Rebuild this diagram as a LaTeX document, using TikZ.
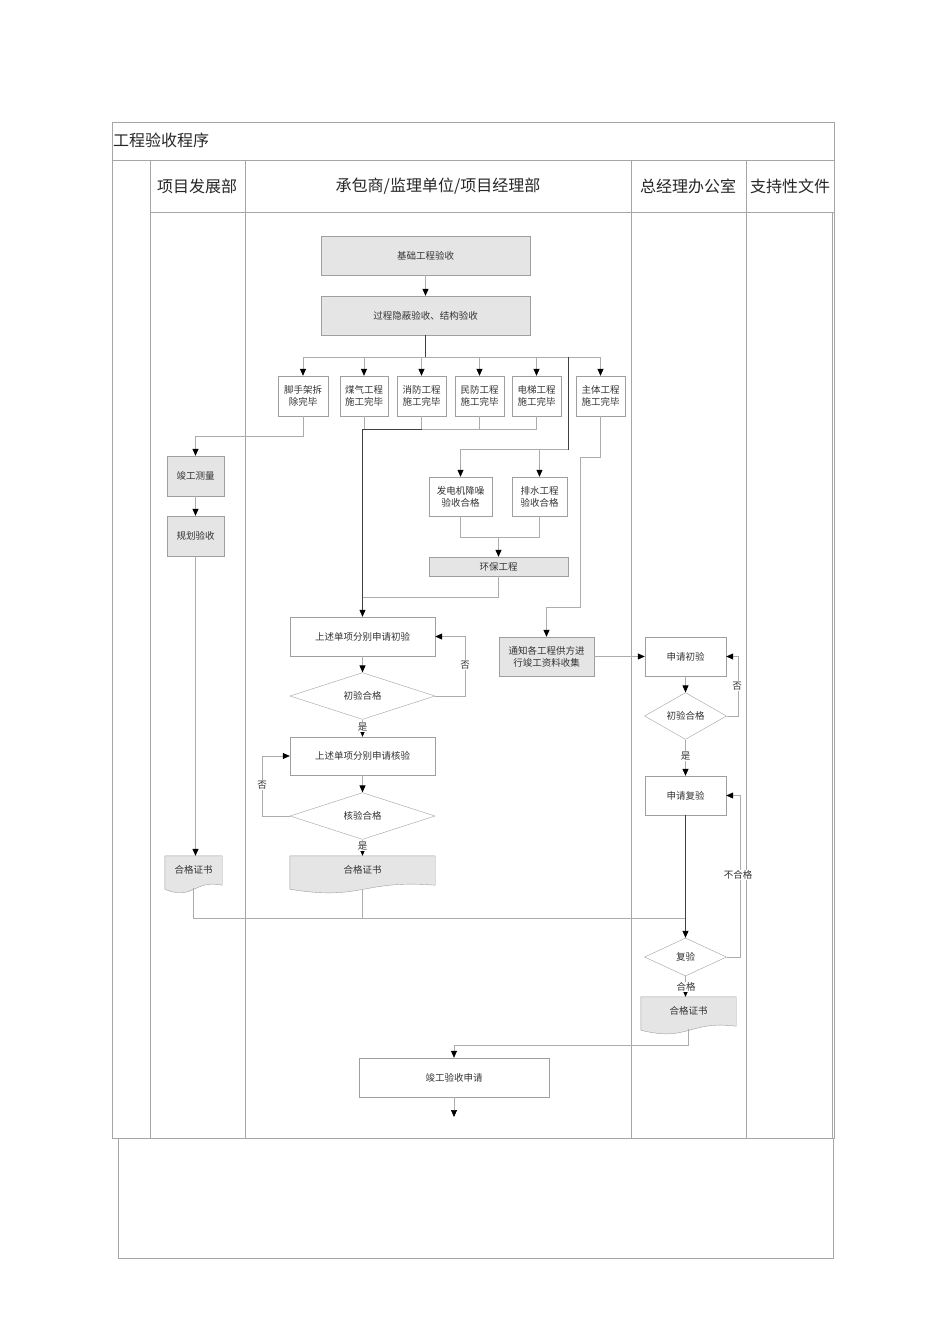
\documentclass[tikz,border=0pt]{standalone}
\usepackage{fontspec}
\setmainfont{Noto Sans CJK SC}
\usetikzlibrary{arrows.meta,shapes.geometric,calc}
\begin{document}
\begin{tikzpicture}[x=1pt,y=-1pt,
  tbl/.style={draw=gray!70,line width=0.8pt},
  ln/.style={draw=gray!65,line width=0.7pt},
  dk/.style={draw=black!75,line width=0.8pt},
  arr/.style={-{Triangle[width=6pt,length=7pt,color=black]}},
  bx/.style={draw=gray!75,rectangle,inner sep=1pt,align=center,font=\fontsize{9.5}{12}\selectfont,text=black!80},
  gbx/.style={bx,fill=gray!20},
  dm/.style={draw=gray!75,diamond,inner sep=0pt,font=\fontsize{9.5}{12}\selectfont,text=black!80},
  dc/.style={rectangle,inner sep=1pt,font=\fontsize{9.5}{12}\selectfont,text=black!80,anchor=center},
  lbl/.style={font=\fontsize{9.5}{12}\selectfont,text=black!80,fill=white,inner sep=1pt},
  hd/.style={font=\fontsize{16}{18}\selectfont,text=black!85}]
\useasboundingbox (0,0) rectangle (950,1344);
% table
\draw[tbl] (112,122) rectangle (834,1138);
\draw[tbl] (112,160) -- (834,160);
\draw[tbl] (150,212) -- (834,212);
\foreach \x in {150,245,631,746} \draw[tbl] (\x,160) -- (\x,1138);
\draw[tbl] (832,212) -- (832,1138);
\draw[tbl] (118,1138) rectangle (833,1258);
\node[hd,anchor=west,inner sep=0pt] (title) at (113,140) {工程验收程序};
\node[hd] (h1) at (197,186) {项目发展部};
\node[hd] (h2) at (438,186) {承包商/监理单位/项目经理部};
\node[hd] (h3) at (688,186) {总经理办公室};
\node[hd] (h4) at (790,186) {支持性文件};
% nodes
\node[gbx,minimum width=209pt,minimum height=39pt] (jc) at (425.5,255.5) {基础工程验收};
\node[gbx,minimum width=209pt,minimum height=39pt] (gc) at (425.5,315.5) {过程隐蔽验收、结构验收};
\node[bx,minimum width=50pt,minimum height=40pt] (s1) at (303,396) {脚手架拆\\除完毕};
\node[bx,minimum width=48pt,minimum height=40pt] (s2) at (364,396) {煤气工程\\施工完毕};
\node[bx,minimum width=49pt,minimum height=40pt] (s3) at (421.5,396) {消防工程\\施工完毕};
\node[bx,minimum width=49pt,minimum height=40pt] (s4) at (479.5,396) {民防工程\\施工完毕};
\node[bx,minimum width=49pt,minimum height=40pt] (s5) at (536.5,396) {电梯工程\\施工完毕};
\node[bx,minimum width=49pt,minimum height=40pt] (s6) at (600.5,396) {主体工程\\施工完毕};
\node[bx,minimum width=63pt,minimum height=39pt] (fd) at (460.5,496.5) {发电机降噪\\验收合格};
\node[bx,minimum width=55pt,minimum height=39pt] (ps) at (539.5,496.5) {排水工程\\验收合格};
\node[gbx,minimum width=139pt,minimum height=19pt] (hb) at (498.5,566.5) {环保工程};
\node[gbx,minimum width=57pt,minimum height=40pt] (jg) at (195.5,476) {竣工测量};
\node[gbx,minimum width=57pt,minimum height=40pt] (gh) at (195.5,536) {规划验收};
\node[bx,minimum width=145pt,minimum height=39pt] (sq1) at (362.5,636.5) {上述单项分别申请初验};
\node[dm,minimum width=145pt,minimum height=38pt] (d1) at (362.5,696) {初验合格};
\node[bx,minimum width=145pt,minimum height=38pt] (sq2) at (362.5,756) {上述单项分别申请核验};
\node[dm,minimum width=145pt,minimum height=38pt] (d2) at (362.5,816) {核验合格};
\node[gbx,minimum width=95pt,minimum height=39pt] (tz) at (546.5,656.5) {通知各工程供方进\\行竣工资料收集};
\node[bx,minimum width=81pt,minimum height=39pt] (sc) at (685.5,656.5) {申请初验};
\node[dm,minimum width=82pt,minimum height=38pt] (d3) at (685.5,716) {初验合格};
\node[bx,minimum width=81pt,minimum height=39pt] (sf) at (685.5,795.5) {申请复验};
\node[dm,minimum width=82pt,minimum height=38pt] (d4) at (685.5,957) {复验};
\node[bx,minimum width=190pt,minimum height=39pt] (jy) at (454,1077.5) {竣工验收申请};
% documents
\newcommand\docpath[1]{\draw[draw=gray!75,fill=gray!20] (#1.north west) -- (#1.north east) -- ([yshift=8pt]#1.south east) .. controls ([yshift=14pt]#1.south) and ([yshift=-8pt]#1.south) .. ([yshift=4pt]#1.south west) -- cycle;}
\node[dc,minimum width=57pt,minimum height=37pt] (doc1) at (193.5,874.5) {};
\node[dc,minimum width=145pt,minimum height=37pt] (doc2) at (362.5,874.5) {};
\node[dc,minimum width=95pt,minimum height=37pt] (doc3) at (688.5,1015.5) {};
\docpath{doc1}\docpath{doc2}\docpath{doc3}
\node[dc] (t1) at (193.5,870) {合格证书};
\node[dc] (t2) at (362.5,870) {合格证书};
\node[dc] (t3) at (688.5,1011) {合格证书};
% connectors
\draw[ln,arr] (jc) -- (gc);
\coordinate (br) at (425.5,357);
\draw[dk] (gc.south) -- (br) -- (568,357);
\draw[ln,arr] (br) -| (s1.north);
\draw[ln,arr] (br) -| (s2.north);
\draw[ln,arr] (br) -| (s3.north);
\draw[ln,arr] (br) -| (s4.north);
\draw[ln,arr] (br) -| (s5.north);
\draw[ln,arr] (br) -| (s6.north);
\coordinate (b2) at (568,449);
\draw[dk] (568,357) -- (b2) -- (460.5,449);
\draw[ln,arr] (b2) -| (fd.north);
\draw[ln,arr] (b2) -| (ps.north);
\coordinate (m2) at (498.5,537);
\draw[ln] (fd.south) |- (m2);
\draw[ln] (ps.south) |- (m2);
\draw[ln,arr] (m2) -- (hb.north);
\coordinate (m1) at (362.5,429);
\draw[ln] (s2.south) |- (m1);
\draw[ln] (s3.south) |- (m1);
\draw[ln] (s4.south) |- (m1);
\draw[ln] (s5.south) |- (m1);
\draw[ln] (hb.south) |- (362.5,597);
\draw[dk,arr] (s3.south |- m1) -- (m1) -- (sq1.north);
\draw[ln,arr] (s1.south) |- (195.5,436) -- (jg.north);
\draw[ln,arr] (jg) -- (gh);
\draw[ln,arr] (gh.south) -- (doc1.north -| gh.south);
\draw[ln,arr] (s6.south) |- (580,457) |- (546.5,607) -- (tz.north);
\draw[ln,arr] (sq1) -- (d1);
\draw[ln,arr] (d1.east) -| (465,636.5) -- (sq1.east);
\node[lbl] (no1) at (465,665) {否};
\draw[ln,arr] (d1.south) -- (sq2.north);
\node[lbl] (y1) at (362.5,727) {是};
\draw[ln,arr] (sq2) -- (d2);
\draw[ln,arr] (d2.west) -| (262,756) -- (sq2.west);
\node[lbl] (no2) at (262,785) {否};
\draw[ln,arr] (d2.south) -- (doc2.north);
\node[lbl] (y2) at (362.5,846) {是};
\coordinate (m3) at (685.5,918);
\draw[ln] ([yshift=5pt]doc1.south) |- (m3);
\draw[ln] ([yshift=3pt]doc2.south) -- (362.5,918);
\draw[dk,arr] (sf.south) -- (d4.north);
\draw[ln,arr] (tz) -- (sc);
\draw[ln,arr] (sc) -- (d3);
\draw[ln,arr] (d3.east) -| (738,656.5) -- (sc.east);
\node[lbl] (no3) at (737,686) {否};
\draw[ln,arr] (d3.south) -- (sf.north);
\node[lbl] (y3) at (685.5,756) {是};
\draw[ln,arr] (d4.east) -| (740,795.5) -- (sf.east);
\node[lbl] (ng) at (738,875) {不合格};
\draw[ln,arr] (d4.south) -- (doc3.north -| d4.south);
\node[lbl] (ok) at (686,987) {合格};
\draw[ln,arr] ([yshift=5pt]doc3.south) |- (454,1045) -- (jy.north);
\coordinate (end) at (454,1117);
\draw[ln,arr] (jy) -- (end);
\end{tikzpicture}
\end{document}
